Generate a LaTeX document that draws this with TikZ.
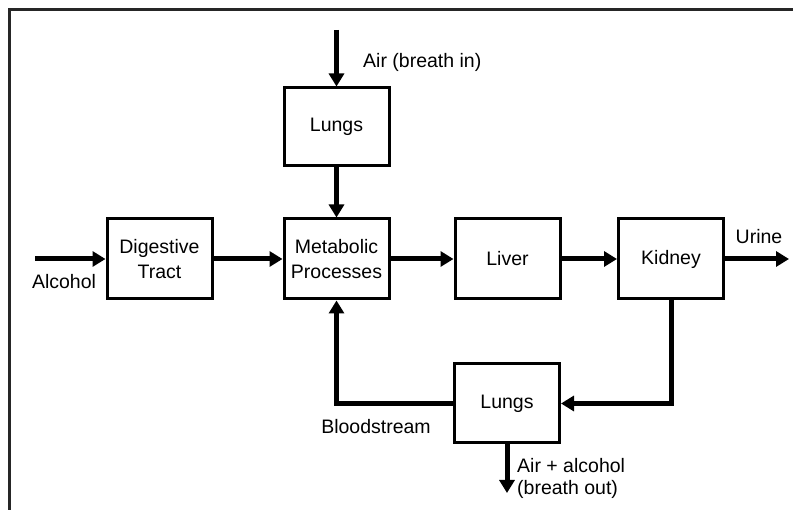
\documentclass[tikz,border=0pt]{standalone}
\usepackage{fontspec}
\setmainfont{Liberation Sans}
\usetikzlibrary{arrows.meta}
\begin{document}
\begin{tikzpicture}[x=1pt,y=-1pt,
  blk/.style={draw, line width=3pt, minimum width=105pt, minimum height=80pt, align=center, inner sep=0pt, font=\fontsize{19.5}{25}\selectfont},
  lbl/.style={inner sep=0pt, font=\fontsize{19.5}{22}\selectfont},
  flow/.style={line width=5pt, -{Triangle[length=13pt,width=15pt]}},
  link/.style={line width=5pt}]
\useasboundingbox (0,0) rectangle (793,510);
\draw[line width=3pt, draw=black!85] (9,510) -- (9,10) -- (793,10);
\node[blk, minimum height=78pt] (lungsA) at (336.5,127) {Lungs};
\node[blk] (digest) at (159.5,259) {Digestive\\Tract};
\node[blk] (metab) at (336.5,259) {Metabolic\\Processes};
\node[blk] (liver) at (507.5,259) {Liver};
\node[blk] (kidney) at (671,259) {Kidney};
\node[blk, minimum height=79pt] (lungsB) at (507,403.5) {Lungs};
\coordinate (airin) at (336.5,30);
\coordinate (alc) at (35,259);
\coordinate (urine) at (789,259);
\coordinate (out) at (507,493);
\node[lbl, anchor=west] (airlbl) at (363,62) {Air (breath in)};
\node[lbl] (alclbl) at (64,282) {Alcohol};
\node[lbl] (urinelbl) at (759,237) {Urine};
\node[lbl] (bloodlbl) at (376,427) {Bloodstream};
\node[lbl, anchor=west, align=left] (outlbl) at (517,478) {Air + alcohol\\(breath out)};
\draw[flow] (airin) -- (lungsA.north);
\draw[flow] (lungsA.south) -- (metab.north);
\draw[flow] (alc) -- (digest.west);
\draw[flow] (digest.east) -- (metab.west);
\draw[flow] (metab.east) -- (liver.west);
\draw[flow] (liver.east) -- (kidney.west);
\draw[flow] (kidney.east) -- (urine);
\draw[flow] (kidney.south) |- (lungsB.east);
\draw[flow] (lungsB.west) -| (metab.south);
\draw[flow] (lungsB.south) -- (out);
\end{tikzpicture}
\end{document}
